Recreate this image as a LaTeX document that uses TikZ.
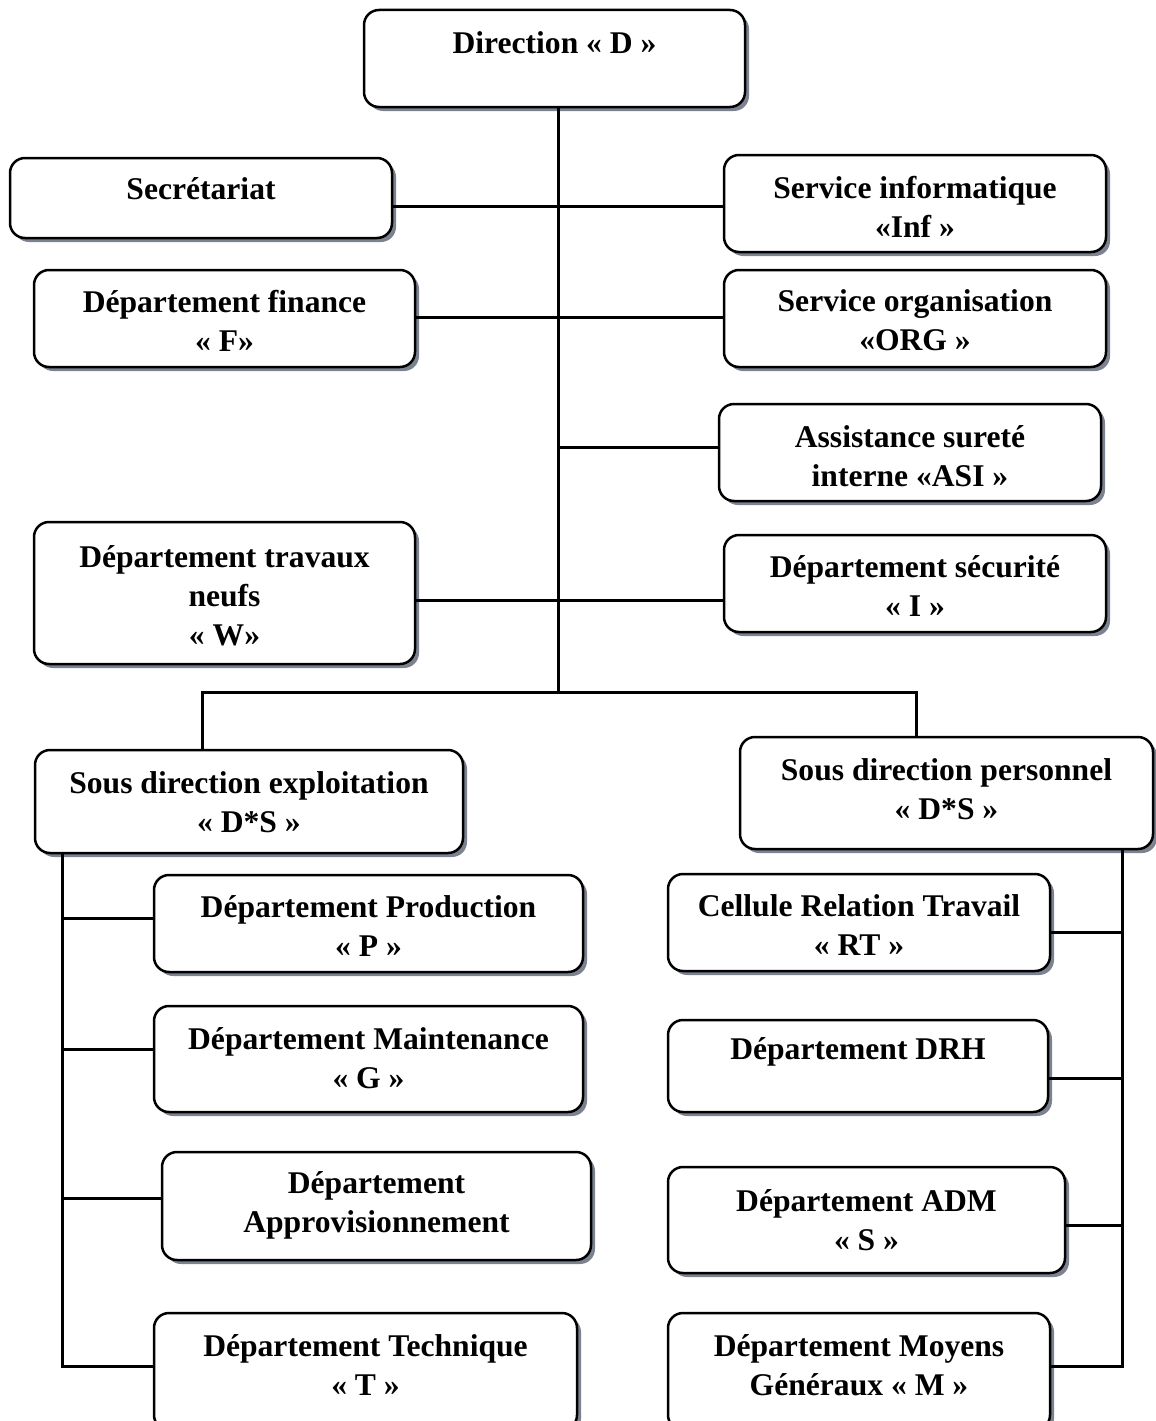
\documentclass[tikz,border=0pt]{standalone}
\usepackage{fontspec}
\setmainfont{Liberation Serif}
\usetikzlibrary{shadows,calc}
\definecolor{shadowgray}{RGB}{125,130,145}
\newcommand\orgbox[7]{%
  \node[box, minimum width={(#4-#2)*1pt}, minimum height={(#5-#3)*1pt}] (#1) at ({(#2+#4)/2},{(#3+#5)/2}) {};
  \node[lbl] (#1t) at ({(#2+#4)/2},#6) {#7};}
\begin{document}
\begin{tikzpicture}[x=1pt,y=-1pt,
  box/.style={draw=black, line width=2.5pt, rounded corners=15pt, fill=white,
    drop shadow={shadow xshift=4pt, shadow yshift=-4pt, fill=shadowgray, opacity=1}, inner sep=0pt},
  lbl/.style={align=center, font=\fontsize{31.6}{39}\selectfont\bfseries, inner sep=0pt},
  link/.style={line width=3pt}]
\clip (0,0) rectangle (1156,1421);
\fill[white] (0,0) rectangle (1156,1421);

\orgbox{dir}{364}{10}{745}{107}{43}{Direction « D »}
\orgbox{sec}{10}{158}{392}{238}{189}{Secrétariat}
\orgbox{inf}{724}{155}{1106}{252}{206.5}{Service informatique\\«Inf »}
\orgbox{fin}{34}{270}{415}{367}{320.5}{Département finance\\« F»}
\orgbox{org}{724}{270}{1106}{367}{320.5}{Service organisation\\«ORG »}
\orgbox{asi}{719}{404}{1101}{501}{456}{Assistance sureté\\interne «ASI »}
\orgbox{trv}{34}{522}{415}{664}{596}{Département travaux\\neufs\\« W»}
\orgbox{secu}{724}{535}{1106}{632}{586.5}{Département sécurité\\« I »}
\orgbox{sde}{35}{750}{463}{853}{802.5}{Sous direction exploitation\\« D*S »}
\orgbox{sdp}{740}{737}{1153}{849}{789.5}{Sous direction personnel\\« D*S »}
\orgbox{prd}{154}{875}{583}{972}{926}{Département Production\\« P »}
\orgbox{mnt}{154}{1006}{583}{1112}{1058}{Département Maintenance\\« G »}
\orgbox{apr}{162}{1152}{591}{1260}{1205.5}{Département\\Approvisionnement}
\orgbox{tec}{154}{1313}{577}{1430}{1365}{Département Technique\\« T »}
\orgbox{rt}{668}{874}{1050}{971}{925.5}{Cellule Relation Travail\\« RT »}
\orgbox{drh}{668}{1020}{1048}{1112}{1052}{Département DRH}
\orgbox{adm}{668}{1167}{1065}{1273}{1220}{Département ADM\\« S »}
\orgbox{moy}{668}{1313}{1050}{1430}{1365}{Département Moyens\\Généraux « M »}

\coordinate (tr) at (558,692);
\coordinate (bl) at (202,692);
\coordinate (br) at (916,692);
\coordinate (ls) at (62,1366);
\coordinate (rs) at (1122,1366);

\draw[link] (dir.south -| tr) -- (tr);
\draw[link] (sec.east |- 0,206) -- (inf.west |- 0,206);
\draw[link] (fin.east |- 0,317) -- (org.west |- 0,317);
\draw[link] (tr |- 0,447) -- (asi.west |- 0,447);
\draw[link] (trv.east |- 0,600) -- (secu.west |- 0,600);
\draw[link] (bl |- sde.north) -- (bl) -- (br) -- (br |- sdp.north);

\draw[link] (ls |- sde.south) -- (ls) -- (tec.west |- ls);
\draw[link] (ls |- 0,918) -- (prd.west |- 0,918);
\draw[link] (ls |- 0,1049) -- (mnt.west |- 0,1049);
\draw[link] (ls |- 0,1198) -- (apr.west |- 0,1198);

\draw[link] (rs |- sdp.south) -- (rs) -- (moy.east |- rs);
\draw[link] (rs |- 0,932) -- (rt.east |- 0,932);
\draw[link] (rs |- 0,1078) -- (drh.east |- 0,1078);
\draw[link] (rs |- 0,1225) -- (adm.east |- 0,1225);
\end{tikzpicture}
\end{document}
